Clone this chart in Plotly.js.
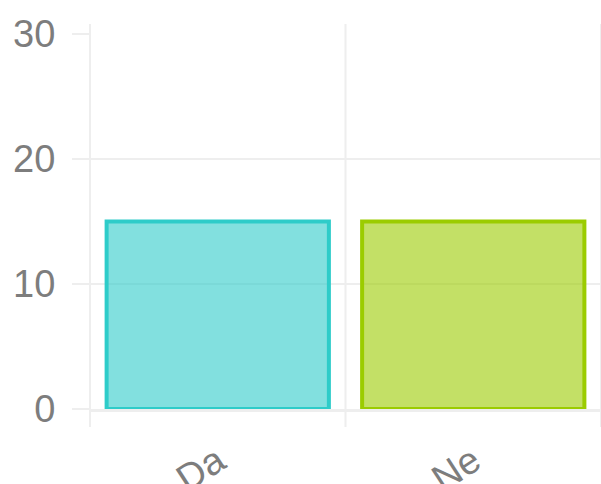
<!DOCTYPE html>
<html>
<head>
<meta charset="utf-8">
<script src="https://cdn.plot.ly/plotly-3.0.1.min.js"></script>
<style>html,body{margin:0;padding:0;background:#fff;}#chart{width:601px;height:484px;}</style>
</head>
<body>
<div id="chart"></div>
<script>
const categories = ['Da', 'Ne'];
const values = [15, 15];
const fillColors = ['rgba(46,204,201,0.6)', 'rgba(155,204,0,0.6)'];
const borderColors = ['rgb(46,204,201)', 'rgb(155,204,0)'];
const yTicks = [0, 10, 20, 30];

const gridColor = 'rgb(238,238,238)';
const textColor = '#7d7d7d';
const fontFamily = 'Liberation Sans, Arial, sans-serif';

const trace = {
  type: 'bar',
  x: categories,
  y: values,
  marker: {color: fillColors, line: {color: borderColors, width: 4}},
  hoverinfo: 'none'
};

// vertical category boundary lines (extend slightly above/below the plot)
const shapes = [0, 0.5, 1].map(p => ({
  type: 'line', xref: 'paper', yref: 'paper',
  x0: p, x1: p, y0: -0.048, y1: 1.027,
  line: {color: gridColor, width: 2}, layer: 'below'
}));

const layout = {
  width: 601, height: 484,
  margin: {l: 90, r: 0, t: 34, b: 75},
  paper_bgcolor: '#fff', plot_bgcolor: '#fff',
  showlegend: false,
  bargap: 0.13,
  font: {family: fontFamily, color: textColor, size: 38},
  xaxis: {
    type: 'category',
    showgrid: false, zeroline: false,
    showline: true, linecolor: gridColor, linewidth: 3, layer: 'above traces',
    ticks: '', tickangle: -33,
    ticklabelstandoff: 12,
    tickfont: {family: fontFamily, size: 38, color: textColor}
  },
  yaxis: {
    range: [0, 30],
    tickvals: yTicks,
    ticktext: yTicks.map(String),
    showgrid: true, gridcolor: gridColor, gridwidth: 2,
    zeroline: false, showline: false,
    ticks: 'outside', ticklen: 17, tickcolor: gridColor, tickwidth: 2,
    ticklabelstandoff: 9,
    tickfont: {family: fontFamily, size: 38, color: textColor}
  },
  shapes: shapes
};

Plotly.newPlot('chart', [trace], layout, {displayModeBar: false, staticPlot: true});
</script>
</body>
</html>
